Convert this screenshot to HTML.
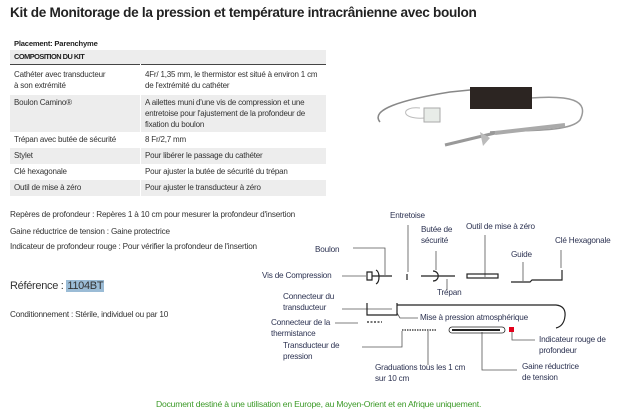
<!DOCTYPE html>
<html><head><meta charset="utf-8"><style>
body{margin:0;width:628px;height:418px;background:#fff;position:relative;overflow:hidden;font-family:"Liberation Sans",sans-serif;color:#333}
.a{position:absolute;white-space:nowrap}
.t{font-size:8.2px;letter-spacing:-0.2px}
.l{font-size:8.2px;color:#2d3352;line-height:11px;letter-spacing:-0.2px}
table{position:absolute;left:10px;top:50px;width:316px;border-collapse:collapse;font-size:8px;letter-spacing:-0.2px}
td{padding:2px 4px;vertical-align:top;line-height:11px;color:#333}
tr.g td{background:#ededed}
td.c{border-right:1px solid #fff}
</style></head><body>
<div class="a" style="left:10px;top:5px;font-size:13.6px;font-weight:bold;color:#222;letter-spacing:-0.3px">Kit de Monitorage de la pression et température intracrânienne avec boulon</div>
<div class="a t" style="left:14px;top:39px;font-weight:bold;color:#222;font-size:7.6px">Placement: Parenchyme</div>
<div class="a" style="left:10px;top:50px;width:316px;border-top:1.5px solid #444"></div>
<table>
<tr class="g"><td colspan="2" style="font-weight:bold;color:#222;height:9px;padding-top:2px;letter-spacing:-0.5px;font-size:7.4px;line-height:10px">COMPOSITION DU KIT</td></tr>
<tr><td class="c" style="width:122px;height:24px;border-top:1.5px solid #444;padding-top:4px">Cathéter avec transducteur<br>à son extrémité</td><td style="border-top:1.5px solid #444;padding-top:4px">4Fr/ 1,35 mm, le thermistor est situé à environ 1 cm de l'extrémité du cathéter</td></tr>
<tr class="g"><td class="c" style="height:33px">Boulon Camino®</td><td>A ailettes muni d'une vis de compression et une entretoise pour l'ajustement de la profondeur de fixation du boulon</td></tr>
<tr><td class="c" style="height:12px">Trépan avec butée de sécurité</td><td>8 Fr/2,7 mm</td></tr>
<tr class="g"><td class="c" style="height:12px">Stylet</td><td>Pour libérer le passage du cathéter</td></tr>
<tr><td class="c" style="height:12px">Clé hexagonale</td><td>Pour ajuster la butée de sécurité du trépan</td></tr>
<tr class="g"><td class="c" style="height:12px">Outil de mise à zéro</td><td>Pour ajuster le transducteur à zéro</td></tr>
</table>

<svg class="a" style="left:340px;top:40px" width="280" height="150">
<path d="M40 82 C30 70,60 60,110 52 L150 48" stroke="#888" stroke-width="1.5" fill="none"/>
<path d="M190 58 C230 55,250 60,240 80 C230 92,190 90,150 92" stroke="#999" stroke-width="1.5" fill="none"/>
<path d="M80 68 C60 66,60 80,85 78" stroke="#bbb" stroke-width="1" fill="none"/>
<rect x="130" y="47" width="62" height="22" fill="#2c2522"/>
<rect x="84" y="68" width="16" height="14" fill="#e8ece8" stroke="#aaa"/>
<path d="M105 105 L155 93" stroke="#999" stroke-width="3"/>
<path d="M155 93 L225 85" stroke="#aaa" stroke-width="4"/>
<path d="M140 92 L150 98 L143 106Z" fill="#bbb"/>
</svg>

<div class="a t" style="left:10px;top:210px">Repères de profondeur : Repères 1 à 10 cm pour mesurer la profondeur d'insertion</div>
<div class="a t" style="left:10px;top:227px">Gaine réductrice de tension : Gaine protectrice</div>
<div class="a t" style="left:10px;top:242px">Indicateur de profondeur rouge : Pour vérifier la profondeur de l'insertion</div>
<div class="a" style="left:10px;top:280px;font-size:11px;color:#333;letter-spacing:-0.3px">Référence : <span style="background:#9bbcd6;padding:0 1px">1104BT</span></div>
<div class="a t" style="left:10px;top:310px">Conditionnement :  Stérile, individuel ou par 10</div>

<div class="a l" style="left:390px;top:210px">Entretoise</div>
<div class="a l" style="left:421px;top:224px">Butée de<br>sécurité</div>
<div class="a l" style="left:466px;top:221px">Outil de mise à zéro</div>
<div class="a l" style="left:555px;top:235px">Clé Hexagonale</div>
<div class="a l" style="left:511px;top:249px">Guide</div>
<div class="a l" style="left:315px;top:244px">Boulon</div>
<div class="a l" style="left:262px;top:270px">Vis de Compression</div>
<div class="a l" style="left:437px;top:287px">Trépan</div>
<div class="a l" style="left:283px;top:291px">Connecteur du<br>transducteur</div>
<div class="a l" style="left:420px;top:312px">Mise à pression atmosphérique</div>
<div class="a l" style="left:271px;top:317px">Connecteur de la<br>thermistance</div>
<div class="a l" style="left:283px;top:340px">Transducteur de<br>pression</div>
<div class="a l" style="left:539px;top:334px">Indicateur rouge de<br>profondeur</div>
<div class="a l" style="left:375px;top:362px">Graduations tous les 1 cm<br>sur 10 cm</div>
<div class="a l" style="left:522px;top:361px">Gaine réductrice<br>de tension</div>

<svg class="a" style="left:0;top:0" width="628" height="418" fill="none" stroke="#555" stroke-width="0.8">
<path d="M353 248H385V275 M342 276H366 M408 225V272 M436 251V270 M447 279V290 M485 235V277 M523 262V281 M561 250V268 M342 309H392 M397 313L400 318H418 M335 323H358 M362 347H402V331 M428 331V365 M482 332V370H517 M512 331V340H535"/>
<g stroke="#222" stroke-width="1.2">
<path d="M367 272V280H372V272Z M372 276H392 M376 270C380 272,380 282,376 284"/>
<path d="M407 274V280"/>
<path d="M421 276H455 M433 271C440 271,440 281,433 281"/>
<rect x="467" y="274" width="31" height="4"/>
<path d="M511 282H530L532 280H562V270"/>
<path d="M367 303V315H397V303 M397 305H556 Q566 306,565 316 Q564 326,556 328"/>
<path d="M367 322H382" stroke-dasharray="2 1.5"/>
<path d="M402 330H437" stroke-dasharray="1.5 1"/>
<rect x="449" y="327" width="56" height="6" rx="3" stroke-width="0.8"/>
<path d="M452 330H500" stroke-width="2"/>
</g>
<rect x="509" y="327" width="5" height="5" fill="#e3001b" stroke="none"/>
</svg>

<div class="a" style="left:156px;top:399px;font-size:8.6px;color:#3c9a28;letter-spacing:-0.2px">Document destiné à une utilisation en Europe, au Moyen-Orient et en Afrique uniquement.</div>
</body></html>
